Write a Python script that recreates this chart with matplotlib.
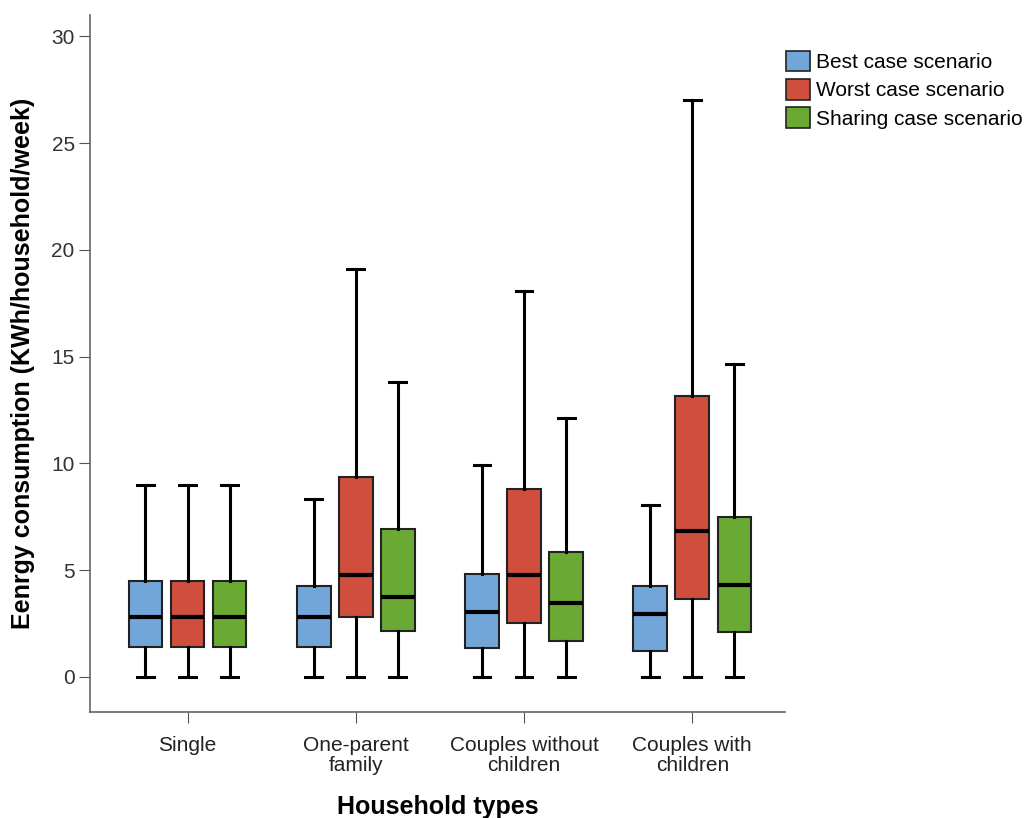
import matplotlib
matplotlib.use("Agg")
import matplotlib.pyplot as plt
from matplotlib.patches import Patch

plt.rcParams['font.family'] = ['Liberation Sans', 'DejaVu Sans']

households = ["Single", "One-parent\nfamily", "Couples without\nchildren", "Couples with\nchildren"]
scenarios = ["Best case scenario", "Worst case scenario", "Sharing case scenario"]
colors = ["#72a6d9", "#d04e3e", "#6aaa34"]

# five-number summaries, one list per scenario
best_low = [0, 0, 0, 0]
best_q1 = [1.40, 1.40, 1.36, 1.22]
best_med = [2.81, 2.81, 3.04, 2.95]
best_q3 = [4.49, 4.26, 4.82, 4.26]
best_high = [8.98, 8.33, 9.92, 8.05]

worst_low = [0, 0, 0, 0]
worst_q1 = [1.40, 2.81, 2.53, 3.65]
worst_med = [2.81, 4.77, 4.77, 6.83]
worst_q3 = [4.49, 9.36, 8.80, 13.15]
worst_high = [8.98, 19.1, 18.06, 27.0]

share_low = [0, 0, 0, 0]
share_q1 = [1.40, 2.15, 1.68, 2.11]
share_med = [2.81, 3.74, 3.46, 4.31]
share_q3 = [4.49, 6.93, 5.85, 7.49]
share_high = [8.98, 13.8, 12.12, 14.65]

series = [
    (best_low, best_q1, best_med, best_q3, best_high),
    (worst_low, worst_q1, worst_med, worst_q3, worst_high),
    (share_low, share_q1, share_med, share_q3, share_high),
]

fig = plt.figure(figsize=(10.34, 8.18), dpi=100)
ax = fig.add_axes([0.087, 0.1296, 0.672, 0.852])

offsets = [-0.25, 0, 0.25]
for (lo, q1, med, q3, hi), off, col in zip(series, offsets, colors):
    stats = []
    for i in range(len(households)):
        stats.append(dict(whislo=lo[i], q1=q1[i], med=med[i], q3=q3[i], whishi=hi[i], fliers=[]))
    pos = [i + off for i in range(len(households))]
    ax.bxp(stats, positions=pos, widths=0.2, patch_artist=True, showfliers=False,
           boxprops=dict(facecolor=col, edgecolor="#222222", linewidth=1.5),
           medianprops=dict(color="black", linewidth=3),
           whiskerprops=dict(color="black", linewidth=2.2),
           capprops=dict(color="black", linewidth=2.2))

ax.set_xlim(-0.58, 3.55)
ax.set_ylim(-1.64, 31.0)
ax.set_xticks(range(len(households)))
ax.set_xticklabels(households, fontsize=15, color="#222222", linespacing=1.1)
ax.set_yticks([0, 5, 10, 15, 20, 25, 30])
ax.tick_params(axis='y', labelsize=15, labelcolor="#333333", length=8, color="#555555", pad=3)
ax.tick_params(axis='x', length=8, color="#555555", pad=9)
for s in ["top", "right"]:
    ax.spines[s].set_visible(False)
for s in ["left", "bottom"]:
    ax.spines[s].set_color("#666666")
    ax.spines[s].set_linewidth(1.2)

ax.set_xlabel("Household types", fontsize=18, fontweight="bold", labelpad=14)
ax.set_ylabel("Eenrgy consumption (KWh/household/week)", fontsize=18, fontweight="bold", labelpad=12)

handles = [Patch(facecolor=c, edgecolor="#222222", linewidth=1.2) for c in colors]
fig.legend(handles, scenarios, loc="upper left", bbox_to_anchor=(0.742, 0.961), frameon=False,
           fontsize=15, handlelength=1.15, handleheight=1.15, handletextpad=0.3, labelspacing=0.33)

fig.savefig("out.png", dpi=100)
